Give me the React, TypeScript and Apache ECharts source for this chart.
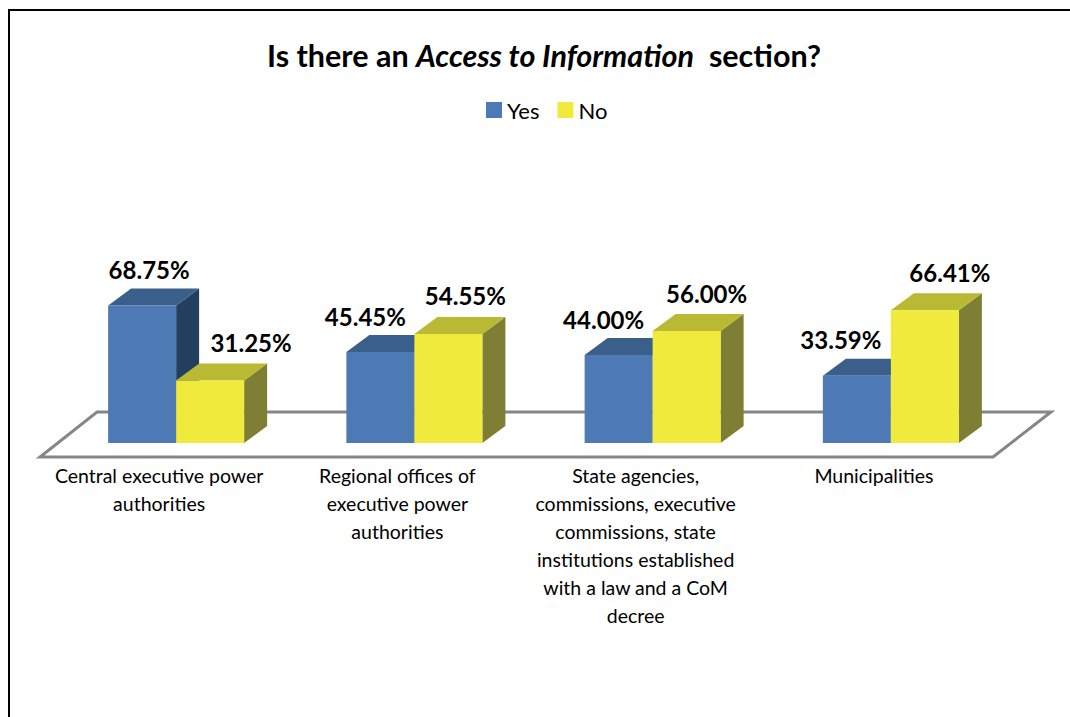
import React, { useEffect, useRef } from "react";
import * as echarts from "echarts";

const categories = [
  "Central executive power\nauthorities",
  "Regional offices of\nexecutive power\nauthorities",
  "State agencies,\ncommissions, executive\ncommissions, state\ninstitutions established\nwith a law and a CoM\ndecree",
  "Municipalities",
];
const yesValues = [68.75, 45.45, 44.0, 33.59];
const noValues = [31.25, 54.55, 56.0, 66.41];

const yesLabelShift = [7, -15, -15, -16];
const noLabelShift = [41, 17, 20, 25];

const FONT = "Lato, 'Open Sans', sans-serif";
const BAR_W = 68;
const DEPTH_X = 23;
const DEPTH_Y = 17;
const SHIFT_X = 17;
const SHIFT_Y = -14;

const palette = {
  yes: { front: "#4D7AB4", top: "#3A5F8B", side: "#233F60" },
  no: { front: "#EFEA3B", top: "#B9B933", side: "#7E7F34" },
};

function bar3d(colors: any, slot: number, shifts: number[], labelGap: number) {
  return (params: any, api: any) => {
    const idx = api.value(0);
    const val = api.value(1);
    const p = api.coord([idx, val]);
    const b = api.coord([idx, 0]);
    const x0 = p[0] + SHIFT_X + slot * BAR_W;
    const x1 = x0 + BAR_W;
    const yT = p[1] + SHIFT_Y;
    const yB = b[1] + SHIFT_Y;
    const poly = (points: number[][], fill: string) => ({
      type: "polygon",
      shape: { points },
      style: { fill },
    });
    return {
      type: "group",
      children: [
        poly([[x1, yT], [x1 + DEPTH_X, yT - DEPTH_Y], [x1 + DEPTH_X, yB - DEPTH_Y], [x1, yB]], colors.side),
        poly([[x0, yT], [x0 + DEPTH_X, yT - DEPTH_Y], [x1 + DEPTH_X, yT - DEPTH_Y], [x1, yT]], colors.top),
        poly([[x0, yT], [x1, yT], [x1, yB], [x0, yB]], colors.front),
        {
          type: "text",
          x: (x0 + x1) / 2 + shifts[params.dataIndex],
          y: yT - labelGap,
          z2: 10,
          style: {
            text: val.toFixed(2) + "%",
            fontFamily: FONT,
            fontWeight: "bold",
            fontSize: 24,
            fill: "#000",
            align: "center",
            verticalAlign: "middle",
          },
        },
      ],
    };
  };
}

export default function App() {
  const ref = useRef<HTMLDivElement>(null);
  useEffect(() => {
    const chart = echarts.init(ref.current!, null, { renderer: "svg" });
    chart.setOption({
      animation: false,
      backgroundColor: "#fff",
      title: {
        left: 262,
        top: 34,
        text: "{b|Is there an }{i|Access to Information}{b|  section?}",
        textStyle: {
          rich: {
            b: { fontFamily: FONT, fontWeight: "bold", fontSize: 30.5, color: "#000" },
            i: { fontFamily: FONT, fontWeight: "bold", fontStyle: "italic", fontSize: 30.5, color: "#000" },
          },
        },
      },
      legend: {
        top: 94,
        left: 481,
        itemWidth: 16,
        itemHeight: 16,
        itemGap: 18,
        icon: "rect",
        textStyle: { fontFamily: FONT, fontSize: 22, color: "#000" },
        data: ["Yes", "No"],
      },
      grid: { left: 40, width: 953, top: 257, height: 200 },
      xAxis: {
        type: "category",
        data: categories,
        axisLine: { show: false },
        axisTick: { show: false },
        axisLabel: {
          interval: 0,
          margin: 4,
          fontFamily: FONT,
          fontSize: 19.5,
          lineHeight: 28,
          color: "#000",
          verticalAlign: "top",
        },
      },
      yAxis: { type: "value", min: 0, max: 100, show: false },
      graphic: [
        {
          type: "polygon",
          z: 0,
          shape: { points: [[40, 457], [993, 457], [1051, 412], [97, 412]] },
          style: { fill: "#fff", stroke: "#868686", lineWidth: 3 },
        },
        {
          type: "polyline",
          z: 0,
          shape: { points: [[9, 717], [9, 10], [1070, 10]] },
          style: { fill: "none", stroke: "#000", lineWidth: 2 },
        },
      ],
      series: [
        {
          type: "custom",
          name: "Yes",
          z: 3,
          itemStyle: { color: palette.yes.front },
          renderItem: bar3d(palette.yes, -1, yesLabelShift, 36),
          encode: { x: 0, y: 1 },
          data: yesValues.map((v, i) => [i, v]),
        },
        {
          type: "custom",
          name: "No",
          z: 4,
          itemStyle: { color: palette.no.front },
          renderItem: bar3d(palette.no, 0, noLabelShift, 38),
          encode: { x: 0, y: 1 },
          data: noValues.map((v, i) => [i, v]),
        },
      ],
    });
    return () => chart.dispose();
  }, []);
  return <div ref={ref} style={{ position: "absolute", left: 0, top: 0, width: 1070, height: 717 }} />;
}
